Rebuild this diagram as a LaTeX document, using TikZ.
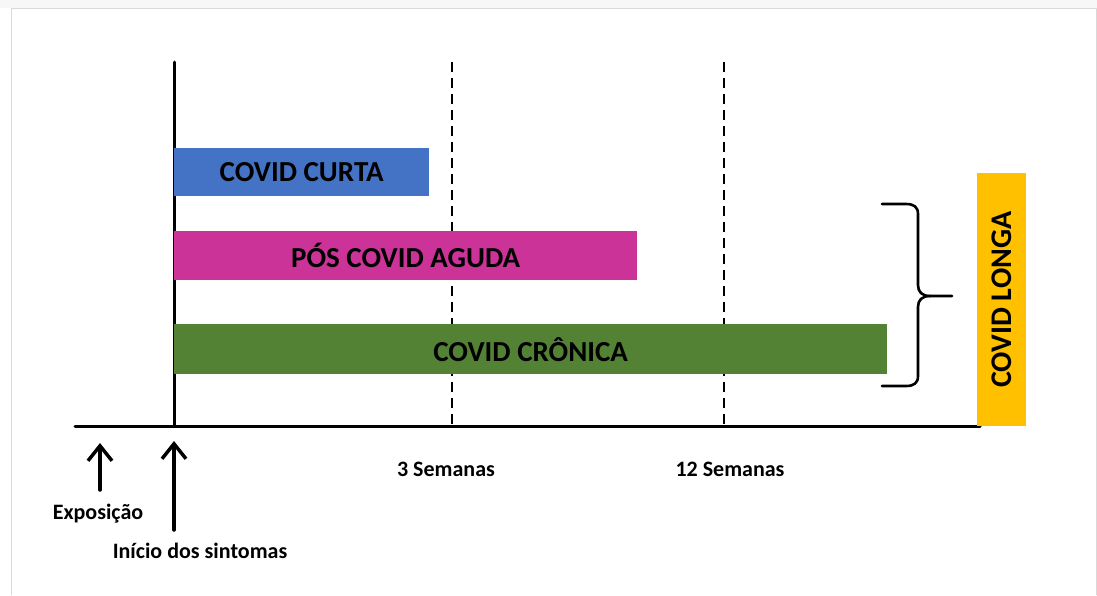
\documentclass[tikz,border=0pt]{standalone}
\usepackage{fontspec}
\setmainfont{Carlito}
\usepackage{xcolor}
\usetikzlibrary{arrows.meta}
\definecolor{curtablue}{RGB}{68,114,196}
\definecolor{agudapink}{RGB}{204,51,153}
\definecolor{cronicagreen}{RGB}{84,130,53}
\definecolor{longayellow}{RGB}{255,192,0}
\tikzset{
  bar/.style={anchor=north west, inner sep=0pt, font=\fontsize{29}{32}\selectfont\bfseries},
  lbl/.style={inner sep=0pt, font=\fontsize{22}{26}\selectfont\bfseries},
  upar/.style={-{Straight Barb[length=15pt,width=24pt,line width=3.5pt]}, line width=3.5pt}
}

\begin{document}
\begin{tikzpicture}[line cap=round,line join=round,x=1pt,y=-1pt]
\useasboundingbox (0,0) rectangle (1097,595);
% faint frame of the figure
\fill [black!3] (0,0) rectangle (1097,8);
\draw [black!15, line width=0.8pt] (11,595) -- (11,8) -- (1096,8) -- (1096,595);

% axes
\coordinate (ax0) at (75,426);
\coordinate (ax1) at (980,426);
\coordinate (vtop) at (174,62);
\coordinate (vbot) at (174,530);
\draw [line width=3pt] (ax0) -- (ax1);
\draw [line width=3pt] (vtop) -- (174,426);
\coordinate (tres) at (452,62);
\coordinate (doze) at (724,62);
\draw [line width=2.8pt, line cap=butt, dash pattern=on 10pt off 6pt] (tres) -- (452,426);
\draw [line width=2.8pt, line cap=butt, dash pattern=on 10pt off 6pt] (doze) -- (724,426);

% bars
\node [bar, fill=curtablue, minimum width=255pt, minimum height=48pt] (curta) at (174,148) {COVID CURTA};
\node [bar, fill=agudapink, minimum width=463pt, minimum height=49pt] (aguda) at (174,231) {PÓS COVID AGUDA};
\node [bar, fill=cronicagreen, minimum width=713pt, minimum height=50pt] (cronica) at (174,324) {COVID CRÔNICA};

% brace
\draw [line width=2.6pt] (882,204) -- (906,204) .. controls (914,204) and (918,207) .. (918,214) -- (918,285)
  .. controls (918,292) and (922,296) .. (930,296) -- (952,296);
\draw [line width=2.6pt] (930,296) .. controls (922,296) and (918,300) .. (918,307) -- (918,376)
  .. controls (918,383) and (914,386) .. (906,386) -- (882,386);

% covid longa
\node [fill=longayellow, minimum width=49pt, minimum height=253pt, anchor=north west, inner sep=0pt] (longa) at (977,173) {};
\node [rotate=90, font=\fontsize{30}{32}\selectfont\bfseries, inner sep=0pt] (longatxt) at (longa.center) {COVID LONGA};

% time marks
\node [lbl] (sem3) at (446,469) {3 Semanas};
\node [lbl] (sem12) at (730,469) {12 Semanas};

% arrows
\coordinate (expA) at (100,490);
\coordinate (expB) at (100,443);
\draw [upar] (expA) -- (expB);
\node [lbl] (expo) at (98,514) {Exposição};
\draw [upar] (vbot) -- (174,441);
\node [lbl] (inicio) at (200,551) {Início dos sintomas};
\end{tikzpicture}
\end{document}
